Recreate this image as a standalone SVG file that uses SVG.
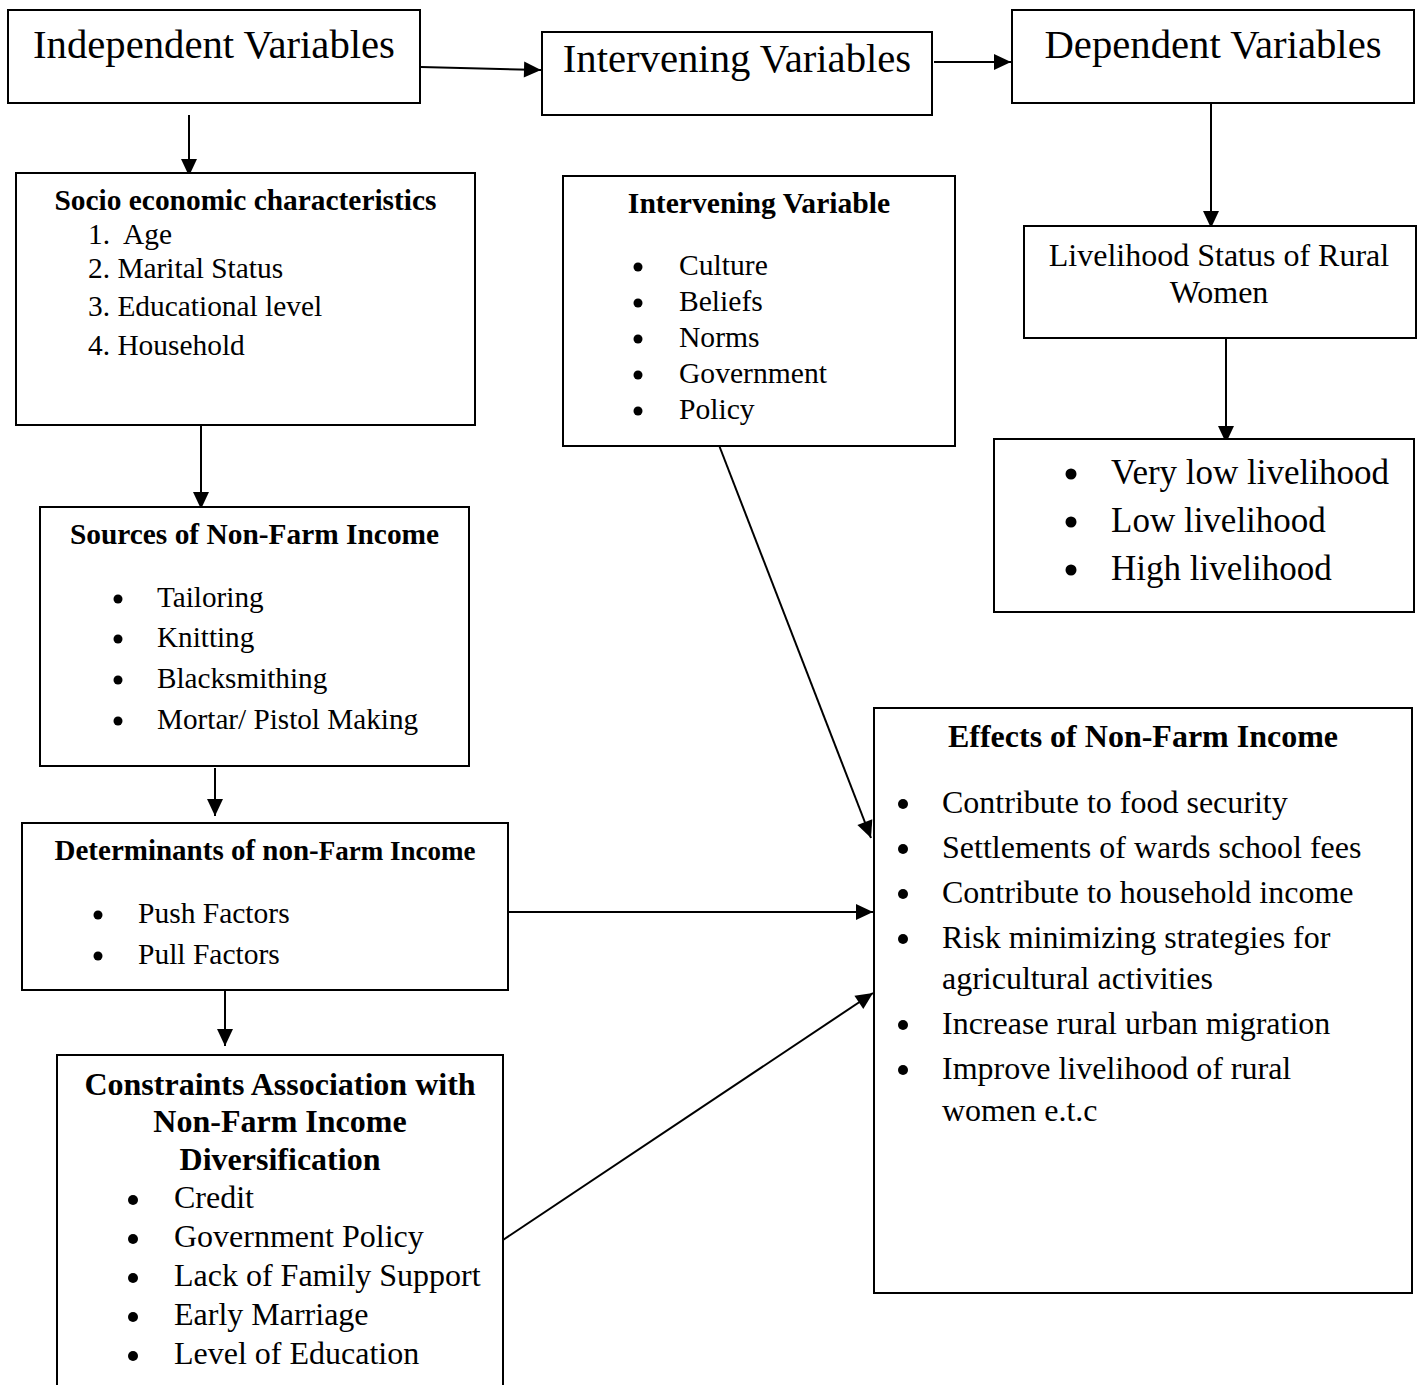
<svg xmlns="http://www.w3.org/2000/svg" width="1424" height="1385" viewBox="0 0 1424 1385">
<style>
.box{fill:#fff;stroke:#000;stroke-width:2}
.t{font-family:"Liberation Serif","Times New Roman",serif;fill:#000}
.hd{font-size:40.7px}
.b{font-weight:bold}
.mid{text-anchor:middle}
.con{stroke:#000;stroke-width:2;fill:none;marker-end:url(#ah)}
.dot{fill:#000}
</style>
<defs>
<marker id="ah" markerUnits="userSpaceOnUse" markerWidth="18" markerHeight="17" refX="17" refY="8" orient="auto" overflow="visible">
<path d="M0,0 L17,8 L0,16 z" fill="#000"/>
</marker>
</defs>
<rect width="1424" height="1385" fill="#fff"/>

<g id="connectors">
<line class="con" x1="421" y1="67" x2="541" y2="70"/>
<line class="con" x1="934" y1="62" x2="1011" y2="62"/>
<line class="con" x1="189" y1="115" x2="189" y2="176"/>
<line class="con" x1="201" y1="425" x2="201" y2="509"/>
<line class="con" x1="215" y1="768" x2="215" y2="816"/>
<line class="con" x1="505" y1="912" x2="873" y2="912"/>
<line class="con" x1="225" y1="990" x2="225" y2="1046"/>
<line class="con" x1="503" y1="1240" x2="873" y2="993"/>
<line class="con" x1="717" y1="440" x2="871" y2="838"/>
<line class="con" x1="1211" y1="103" x2="1211" y2="228"/>
<line class="con" x1="1226" y1="338" x2="1226" y2="443"/>
</g>

<g id="independent">
<rect class="box" x="8" y="10" width="412" height="93"/>
<text class="t hd mid" x="214" y="58">Independent Variables</text>
</g>

<g id="intervening-header">
<rect class="box" x="542" y="32" width="390" height="83"/>
<text class="t hd mid" x="737" y="72">Intervening Variables</text>
</g>

<g id="dependent">
<rect class="box" x="1012" y="10" width="402" height="93"/>
<text class="t hd mid" x="1213" y="58">Dependent Variables</text>
</g>

<g id="socio">
<rect class="box" x="16" y="173" width="459" height="252"/>
<text class="t b mid" x="245.5" y="210" font-size="29.4">Socio economic characteristics</text>
<g class="t" font-size="29.4">
<text x="88" y="244" xml:space="preserve">1.  Age</text>
<text x="88" y="278">2. Marital Status</text>
<text x="88" y="316">3. Educational level</text>
<text x="88" y="355">4. Household</text>
</g>
</g>

<g id="intervening-variable">
<rect class="box" x="563" y="176" width="392" height="270"/>
<text class="t b mid" x="759" y="213" font-size="29.6">Intervening Variable</text>
<g class="dot">
<circle cx="638" cy="267" r="4.5"/><circle cx="638" cy="303" r="4.5"/><circle cx="638" cy="339" r="4.5"/><circle cx="638" cy="375" r="4.5"/><circle cx="638" cy="411" r="4.5"/>
</g>
<g class="t" font-size="29.6">
<text x="679" y="275">Culture</text>
<text x="679" y="311">Beliefs</text>
<text x="679" y="347">Norms</text>
<text x="679" y="383">Government</text>
<text x="679" y="419">Policy</text>
</g>
</g>

<g id="livelihood-status">
<rect class="box" x="1024" y="226" width="392" height="112"/>
<text class="t mid" x="1219" y="266" font-size="32">Livelihood Status of Rural</text>
<text class="t mid" x="1219" y="303" font-size="32">Women</text>
</g>

<g id="livelihood-levels">
<rect class="box" x="994" y="439" width="420" height="173"/>
<g class="dot">
<circle cx="1071" cy="474" r="5.5"/><circle cx="1071" cy="522" r="5.5"/><circle cx="1071" cy="570" r="5.5"/>
</g>
<g class="t" font-size="35">
<text x="1111" y="484">Very low livelihood</text>
<text x="1111" y="532">Low livelihood</text>
<text x="1111" y="580">High livelihood</text>
</g>
</g>

<g id="sources">
<rect class="box" x="40" y="507" width="429" height="259"/>
<text class="t b mid" x="254.5" y="544" font-size="29.4">Sources of Non-Farm Income</text>
<g class="dot">
<circle cx="118" cy="599" r="4.5"/><circle cx="118" cy="639" r="4.5"/><circle cx="118" cy="680" r="4.5"/><circle cx="118" cy="721" r="4.5"/>
</g>
<g class="t" font-size="29.2">
<text x="157" y="607">Tailoring</text>
<text x="157" y="647">Knitting</text>
<text x="157" y="688">Blacksmithing</text>
<text x="157" y="729">Mortar/ Pistol Making</text>
</g>
</g>

<g id="determinants">
<rect class="box" x="22" y="823" width="486" height="167"/>
<text class="t b mid" x="265" y="860" font-size="29">Determinants of non-<tspan font-size="27">Farm Income</tspan></text>
<g class="dot">
<circle cx="98" cy="915" r="4.5"/><circle cx="98" cy="956" r="4.5"/>
</g>
<g class="t" font-size="29.5">
<text x="138" y="923">Push Factors</text>
<text x="138" y="964">Pull Factors</text>
</g>
</g>

<g id="constraints">
<rect class="box" x="57" y="1055" width="446" height="345"/>
<g class="t b mid" font-size="32">
<text x="280" y="1095">Constraints Association with</text>
<text x="280" y="1132">Non-Farm Income</text>
<text x="280" y="1170">Diversification</text>
</g>
<g class="dot">
<circle cx="133" cy="1200" r="5"/><circle cx="133" cy="1239" r="5"/><circle cx="133" cy="1278" r="5"/><circle cx="133" cy="1317" r="5"/><circle cx="133" cy="1356" r="5"/>
</g>
<g class="t" font-size="32">
<text x="174" y="1208">Credit</text>
<text x="174" y="1247">Government Policy</text>
<text x="174" y="1286">Lack of Family Support</text>
<text x="174" y="1325">Early Marriage</text>
<text x="174" y="1364">Level of Education</text>
</g>
</g>

<g id="effects">
<rect class="box" x="874" y="708" width="538" height="585"/>
<text class="t b mid" x="1143" y="747" font-size="32">Effects of Non-Farm Income</text>
<g class="dot">
<circle cx="903" cy="804" r="5"/><circle cx="903" cy="849" r="5"/><circle cx="903" cy="894" r="5"/><circle cx="903" cy="939" r="5"/><circle cx="903" cy="1025" r="5"/><circle cx="903" cy="1070" r="5"/>
</g>
<g class="t" font-size="32">
<text x="942" y="813">Contribute to food security</text>
<text x="942" y="858">Settlements of wards school fees</text>
<text x="942" y="903">Contribute to household income</text>
<text x="942" y="948">Risk minimizing strategies for</text>
<text x="942" y="989">agricultural activities</text>
<text x="942" y="1034">Increase rural urban migration</text>
<text x="942" y="1079">Improve livelihood of rural</text>
<text x="942" y="1121">women e.t.c</text>
</g>
</g>
</svg>
